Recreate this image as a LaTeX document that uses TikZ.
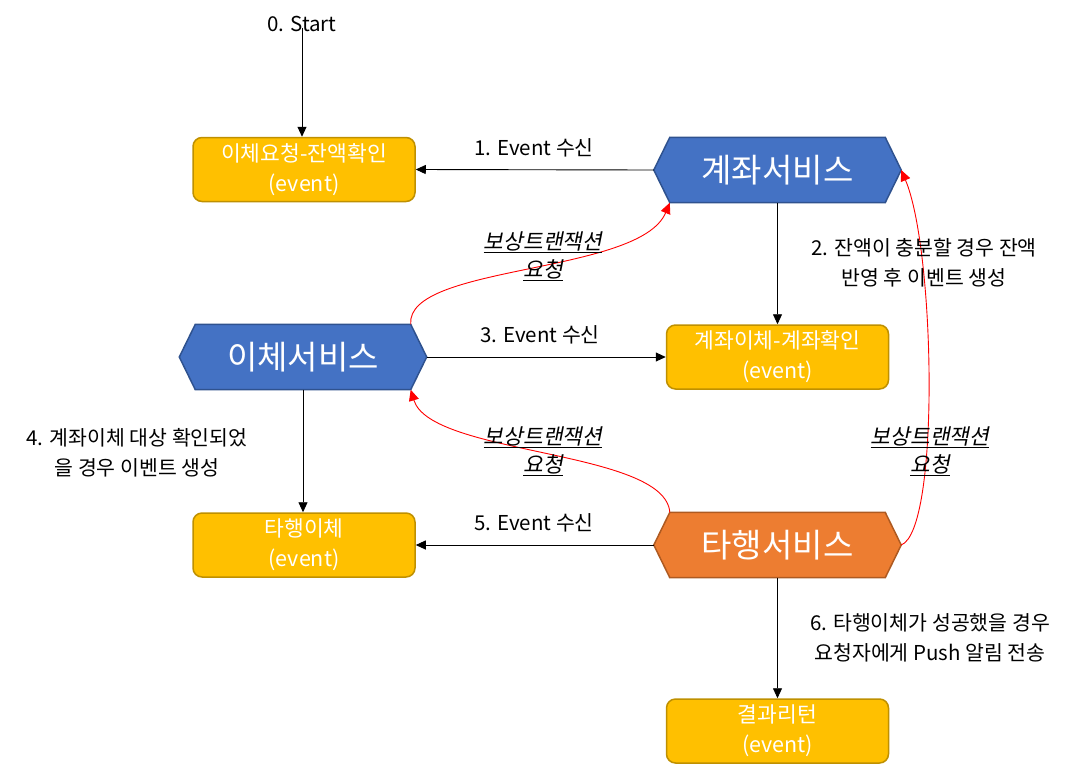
\documentclass[tikz,border=0pt]{standalone}
\usepackage{fontspec}
\setmainfont{Noto Sans CJK KR}
\newfontfamily\slantfont[FakeSlant=0.2]{Noto Sans CJK KR}
\usetikzlibrary{arrows.meta}
\pgfdeclarelayer{background}
\pgfsetlayers{background,main}
\definecolor{boxfill}{HTML}{FFC000}
\definecolor{boxline}{HTML}{BF9000}
\definecolor{bluefill}{HTML}{4472C4}
\definecolor{blueline}{HTML}{2F528F}
\definecolor{orfill}{HTML}{ED7D31}
\definecolor{orline}{HTML}{AE5A21}
\begin{document}
\begin{tikzpicture}[x=1pt,y=-1pt,
  evbox/.style={draw=boxline, fill=boxfill, line width=1.5pt, rounded corners=9pt,
    minimum width=222pt, minimum height=64pt, inner sep=0pt, text=white,
    font=\fontsize{21.5}{30}\selectfont, align=center},
  hexnode/.style={rectangle, minimum width=247pt, minimum height=65pt, inner sep=0pt,
    text=white, font=\fontsize{33}{36}\selectfont},
  lbl/.style={font=\fontsize{20.5}{30}\selectfont, align=center, inner sep=0pt},
  slbl/.style={font=\fontsize{21.5}{28}\slantfont, align=center, inner sep=0pt},
  arr/.style={-{Triangle[length=10pt,width=9pt]}, line width=0.9pt, black},
  redarr/.style={-{Triangle[length=11pt,width=10pt]}, line width=0.9pt, red},
  hexpath/.style={line width=1.5pt}
]
\useasboundingbox (0,0) rectangle (1081,777);

\node[lbl] (start) at (302,24) {0. Start};
\node[evbox] (box1) at (304,169.5) {이체요청-잔액확인\\(event)};
\node[evbox] (box2) at (777.5,357) {계좌이체-계좌확인\\(event)};
\node[evbox] (box3) at (304,545) {타행이체\\(event)};
\node[evbox] (box4) at (777.5,731) {결과리턴\\(event)};

\node[hexnode] (acct) at (777.5,170) {계좌서비스};
\node[hexnode] (xfer) at (303,357) {이체서비스};
\node[hexnode] (bank) at (777.5,545) {타행서비스};

\begin{pgfonlayer}{background}
\foreach \h/\f/\l in {acct/bluefill/blueline, xfer/bluefill/blueline, bank/orfill/orline}{
  \draw[hexpath, fill=\f, draw=\l] (\h.west) -- ([xshift=16pt]\h.north west) -- ([xshift=-16pt]\h.north east)
    -- (\h.east) -- ([xshift=-16pt]\h.south east) -- ([xshift=16pt]\h.south west) -- cycle;
}
\end{pgfonlayer}

% black connectors
\draw[arr] ([yshift=4pt]start.south) -- (start.south |- box1.north);
\draw[arr] (acct.west) -- (box1.east);
\draw[arr] (acct.south) -- (box2.north);
\draw[arr] (xfer.east) -- (box2.west);
\draw[arr] (xfer.south) -- (xfer.south |- box3.north);
\draw[arr] (bank.west) -- (box3.east);
\draw[arr] (bank.south) -- (box4.north);

% red compensation curves
\draw[redarr] ([xshift=-16pt]xfer.north east) .. controls +(-5,-60) and +(-30,72) .. ([xshift=16pt]acct.south west);
\draw[redarr] ([xshift=16pt]bank.north west) .. controls +(-5,-63) and +(20,66) .. ([xshift=-16pt]xfer.south east);
\draw[redarr] (bank.east) .. controls +(39,-15) and +(34,80) .. (acct.east);

% labels
\node[lbl] (l1) at (534,148) {1. Event 수신};
\node[lbl] (l2) at (924,263) {2. 잔액이 충분할 경우 잔액\\반영 후 이벤트 생성};
\node[lbl] (l3) at (540,335) {3. Event 수신};
\node[lbl] (l4) at (137,453) {4. 계좌이체 대상 확인되었\\을 경우 이벤트 생성};
\node[lbl] (l5) at (534,523) {5. Event 수신};
\node[lbl] (l6) at (930,638) {6. 타행이체가 성공했을 경우\\요청자에게 Push 알림 전송};
\node[slbl] (c1) at (543,256) {\underline{보상트랜잭션}\\\underline{요청}};
\node[slbl] (c2) at (543,451) {\underline{보상트랜잭션}\\\underline{요청}};
\node[slbl] (c3) at (930,451) {\underline{보상트랜잭션}\\\underline{요청}};
\end{tikzpicture}
\end{document}
